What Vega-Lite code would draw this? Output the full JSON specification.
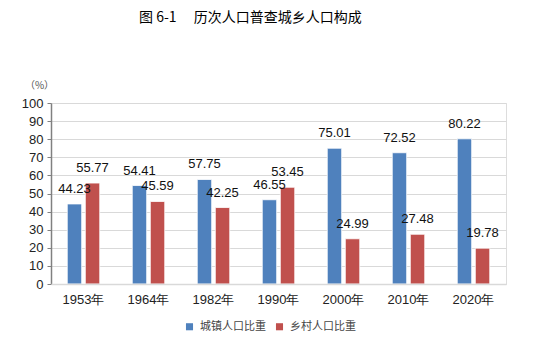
{
  "$schema": "https://vega.github.io/schema/vega-lite/v6.json",
  "autosize": {"type": "none"},
  "width": 455,
  "height": 181,
  "padding": {"left": 51, "top": 103, "right": 27, "bottom": 73},
  "background": "white",
  "title": {
    "text": "图 6-1\u3000\u00a0历次人口普查城乡人口构成",
    "font": "Noto Sans CJK SC",
    "fontSize": 14,
    "fontWeight": "normal",
    "color": "#000000",
    "anchor": "start",
    "frame": "group",
    "dx": 88,
    "offset": 55
  },
  "data": {
    "values": [
      {"year": "1953年", "type": "城镇人口比重", "value": 44.23},
      {"year": "1953年", "type": "乡村人口比重", "value": 55.77},
      {"year": "1964年", "type": "城镇人口比重", "value": 54.41},
      {"year": "1964年", "type": "乡村人口比重", "value": 45.59},
      {"year": "1982年", "type": "城镇人口比重", "value": 57.75},
      {"year": "1982年", "type": "乡村人口比重", "value": 42.25},
      {"year": "1990年", "type": "城镇人口比重", "value": 46.55},
      {"year": "1990年", "type": "乡村人口比重", "value": 53.45},
      {"year": "2000年", "type": "城镇人口比重", "value": 75.01},
      {"year": "2000年", "type": "乡村人口比重", "value": 24.99},
      {"year": "2010年", "type": "城镇人口比重", "value": 72.52},
      {"year": "2010年", "type": "乡村人口比重", "value": 27.48},
      {"year": "2020年", "type": "城镇人口比重", "value": 80.22},
      {"year": "2020年", "type": "乡村人口比重", "value": 19.78}
    ]
  },
  "config": {
    "axis": {"gridColor": "#D9D9D9", "gridWidth": 1.2}
  },
  "encoding": {
    "x": {
      "field": "year",
      "type": "nominal",
      "sort": null,
      "scale": {"paddingInner": 0.5, "paddingOuter": 0.25},
      "axis": {
        "title": null,
        "labelAngle": 0,
        "labelFont": "Liberation Sans",
        "labelFontSize": 13,
        "labelColor": "#222222",
        "labelPadding": 9,
        "ticks": false,
        "domain": true,
        "domainColor": "#D9D9D9",
        "domainWidth": 1.5,
        "zindex": 1
      }
    },
    "xOffset": {
      "field": "type",
      "type": "nominal",
      "scale": {"domain": ["城镇人口比重", "乡村人口比重"], "paddingInner": 0.2}
    },
    "y": {
      "field": "value",
      "type": "quantitative",
      "scale": {"domain": [0, 100]},
      "axis": {
        "values": [0, 10, 20, 30, 40, 50, 60, 70, 80, 90, 100],
        "grid": true,
        "labelOverlap": false,
        "title": "（%）",
        "titleAngle": 0,
        "titleX": -12,
        "titleY": -18,
        "titleAlign": "center",
        "titleBaseline": "middle",
        "titleFont": "Noto Sans CJK SC",
        "titleFontSize": 10,
        "titleFontWeight": "normal",
        "titleColor": "#555555",
        "labelFont": "Liberation Sans",
        "labelFontSize": 13,
        "labelColor": "#222222",
        "labelPadding": 4,
        "tickSize": 4,
        "tickColor": "#808080",
        "domainColor": "#808080",
        "domainWidth": 1.5
      }
    }
  },
  "layer": [
    {
      "mark": {"type": "bar", "stroke": "white", "strokeWidth": 0.8},
      "encoding": {
        "color": {
          "field": "type",
          "type": "nominal",
          "scale": {"domain": ["城镇人口比重", "乡村人口比重"], "range": ["#4F81BD", "#C0504D"]},
          "legend": {
            "title": null,
            "orient": "none",
            "direction": "horizontal",
            "legendX": 133,
            "legendY": 218,
            "symbolType": "square",
            "symbolSize": 50,
            "symbolStrokeWidth": 0,
            "labelFont": "Noto Sans CJK SC",
            "labelFontSize": 11,
            "labelColor": "#444444",
            "columnPadding": 8,
            "labelOffset": 5
          }
        }
      }
    },
    {
      "mark": {"type": "text", "baseline": "middle", "align": "center", "dy": -15, "font": "Liberation Sans", "fontSize": 13, "color": "#111111"},
      "encoding": {
        "text": {"field": "value", "type": "quantitative", "format": ".2f"}
      }
    }
  ]
}
